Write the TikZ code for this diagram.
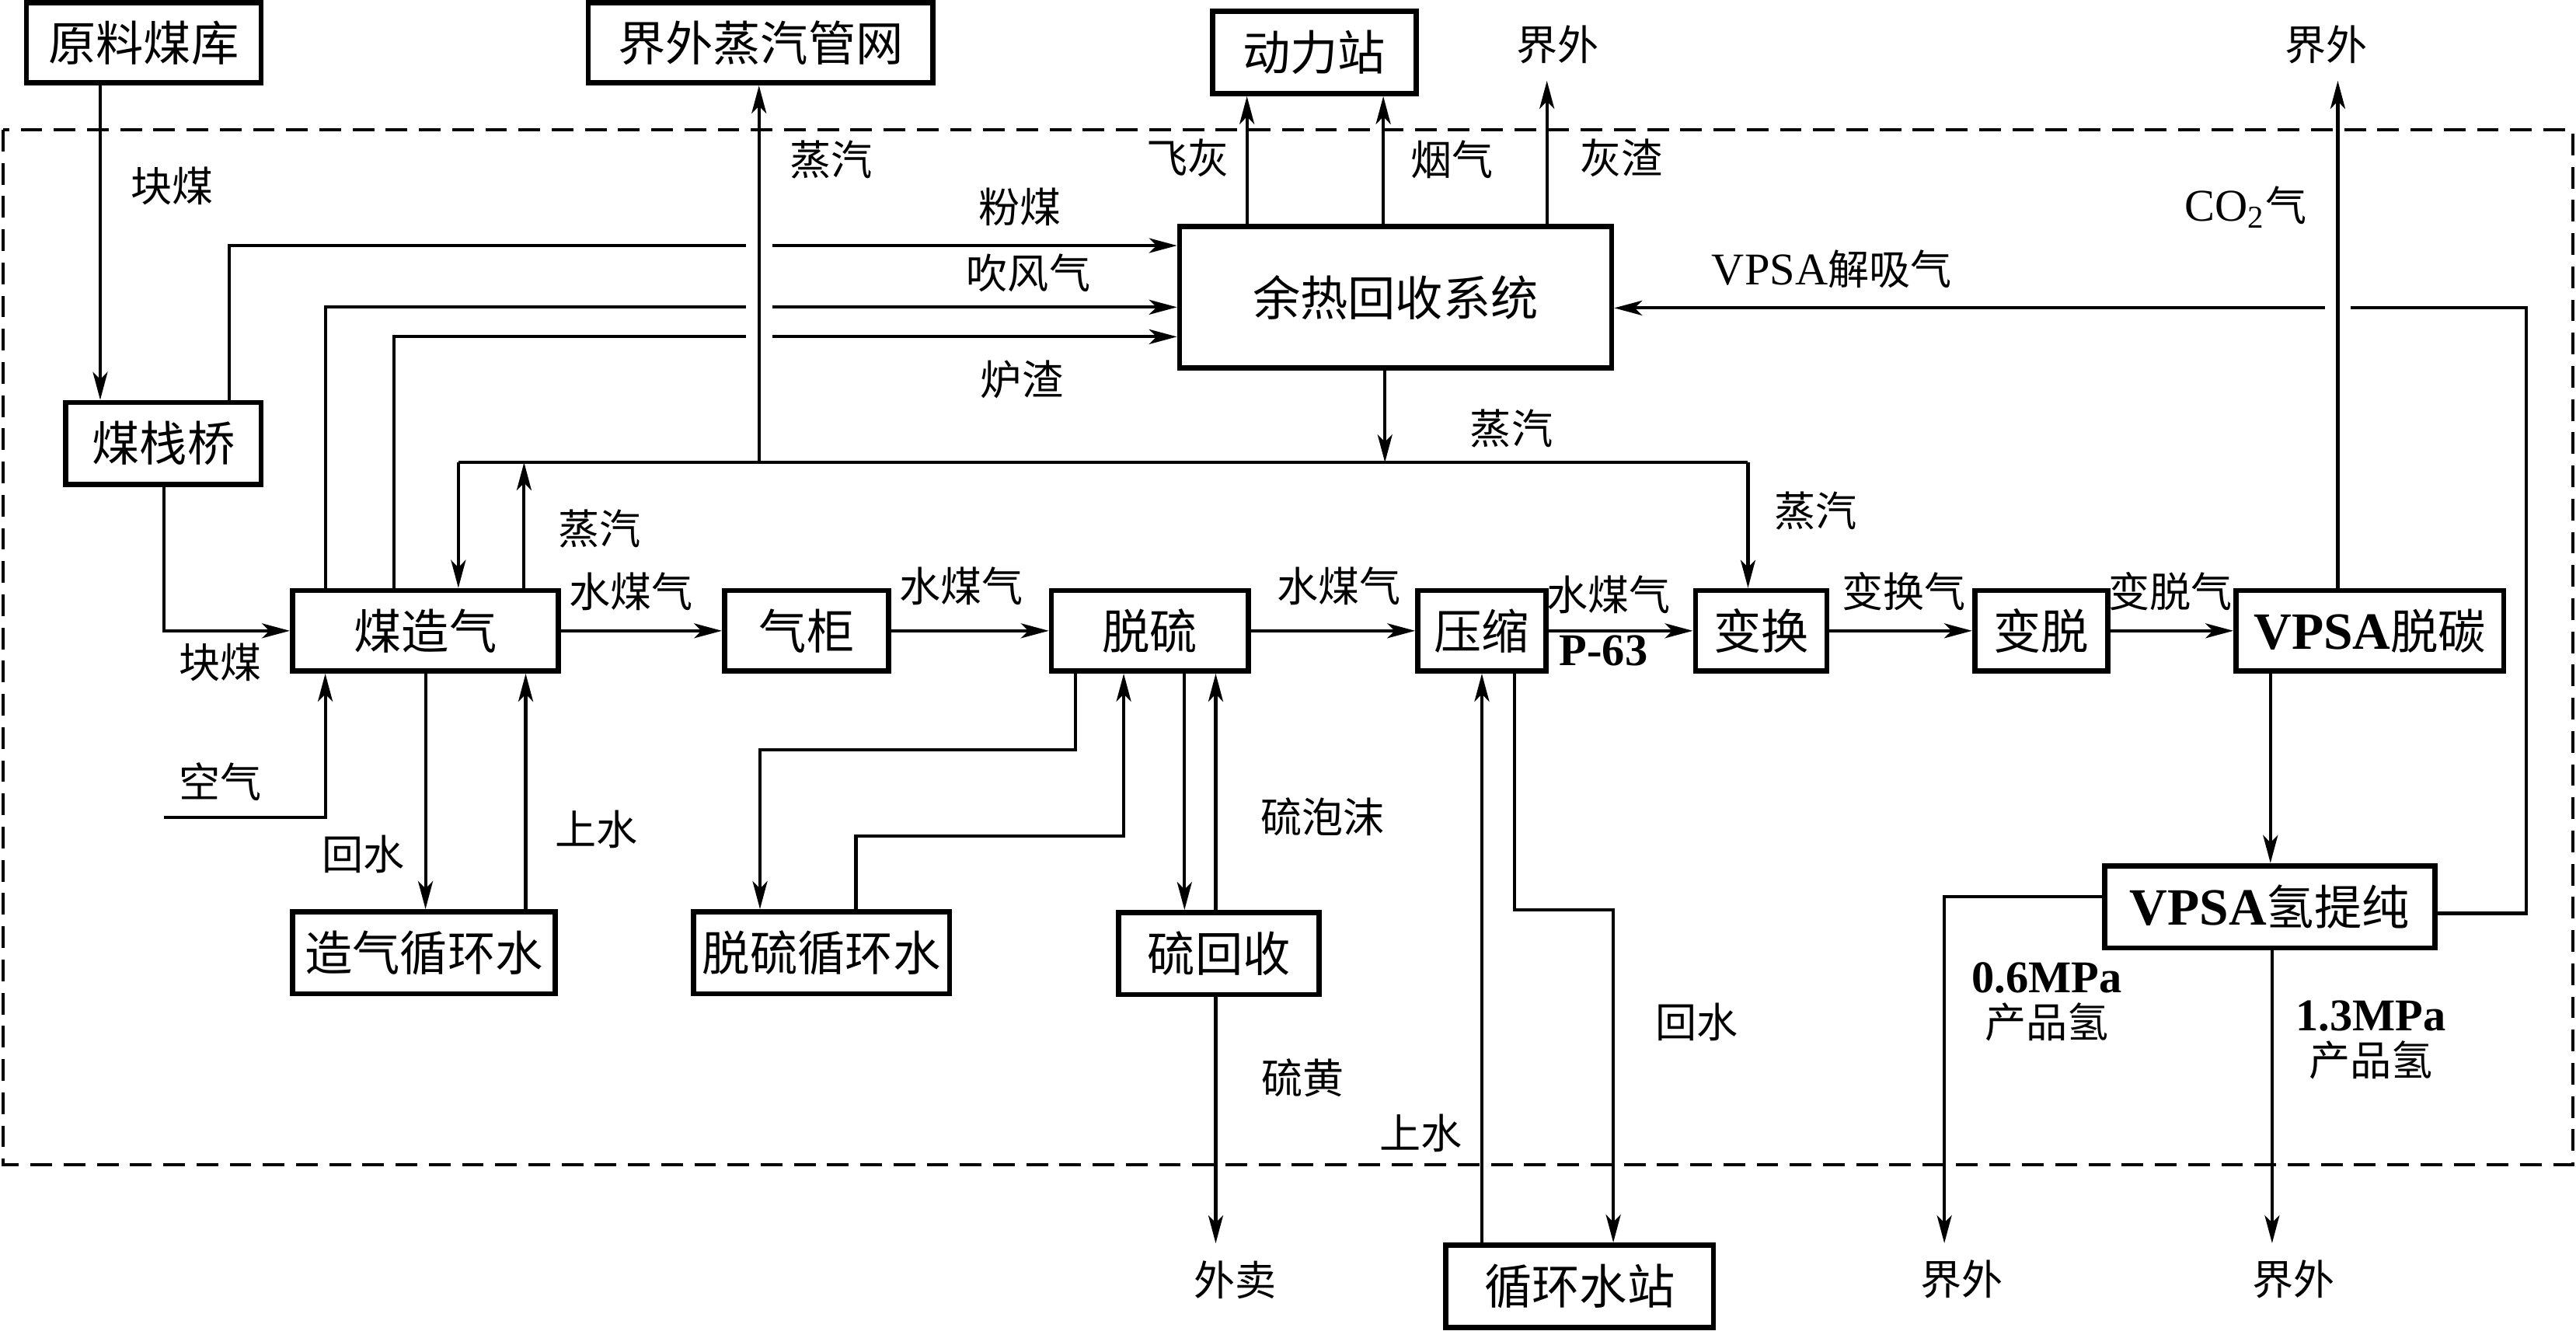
\documentclass[tikz,border=0pt]{standalone}
\usepackage{fontspec}
\setmainfont{Noto Sans CJK SC}
\newfontfamily\latfont[Scale=1.1]{Liberation Serif}
\usepackage{tikz}
\usetikzlibrary{arrows.meta}
\newcommand\boxfont{\fontsize{16.5}{18}\selectfont}
\newcommand\lblfont{\fontsize{14.3}{15.5}\selectfont}
\tikzset{
  box/.style={draw, line width=1.8pt, inner sep=0pt, minimum height=0.98cm, font=\boxfont},
  lbl/.style={inner sep=0pt, font=\lblfont, align=center},
  outside/.style={lbl, outer sep=6pt},
  pipe/.style={line width=1.1pt},
  flow/.style={pipe, -{Stealth[length=3.4mm,width=1.8mm,inset=0.9mm]}}
}

\begin{document}
\begin{tikzpicture}[x=0.02cm,y=-0.02cm]
\useasboundingbox (0,0) rectangle (1568,810);
\draw[line width=1.1pt, dash pattern=on 7.5pt off 4pt] (2,79) rectangle (1566,709);

\node[box, minimum width=2.86cm] (ylmk) at (87.5,26) {原料煤库};
\node[box, minimum width=4.2cm] (jwzq) at (463,26) {界外蒸汽管网};
\node[box, minimum width=2.48cm, minimum height=1cm] (dlz) at (800,32) {动力站};
\node[box, minimum width=5.26cm, minimum height=1.72cm] (yr) at (849.5,181) {余热回收系统};
\node[box, minimum width=2.38cm, minimum height=1cm] (zhanqiao) at (99.5,270) {煤栈桥};
\node[box, minimum width=3.24cm] (zaoqi) at (259,384) {煤造气};
\node[box, minimum width=2cm] (qigui) at (491,384) {气柜};
\node[box, minimum width=2.4cm] (tuoliu) at (700,384) {脱硫};
\node[box, minimum width=1.56cm] (yasuo) at (902,384) {压缩};
\node[box, minimum width=1.6cm] (bianhuan) at (1072,384) {变换};
\node[box, minimum width=1.62cm] (biantuo) at (1242.5,384) {变脱};
\node[box, minimum width=3.26cm] (tuotan) at (1442.5,384) {{\latfont\bfseries VPSA}脱碳};
\node[box, minimum width=3.2cm, minimum height=1cm] (zqxhs) at (258,580) {造气循环水};
\node[box, minimum width=3.12cm, minimum height=1cm] (tlxhs) at (500,580) {脱硫循环水};
\node[box, minimum width=2.44cm, minimum height=1cm] (lhs) at (742,580.5) {硫回收};
\node[box, minimum width=3.26cm, minimum height=1cm] (xhsz) at (961.5,783) {循环水站};
\node[box, minimum width=4.02cm, minimum height=1cm] (qtc) at (1381.5,552) {{\latfont\bfseries VPSA}氢提纯};

\node[outside] (jw1) at (948,27) {界外};
\node[outside] (jw2) at (1416,27) {界外};
\node[outside] (jw3) at (1194,779) {界外};
\node[outside] (jw4) at (1396,779) {界外};
\node[outside] (waimai) at (752,779) {外卖};

\node[lbl] (kuaimei1) at (105,113) {块煤};
\node[lbl] (kuaimei2) at (134,403) {块煤};
\node[lbl] (kongqi) at (134,476) {空气};
\node[lbl] (huishui1) at (221,520) {回水};
\node[lbl] (shangshui1) at (363,505) {上水};
\node[lbl] (zhengqi1) at (365,322) {蒸汽};
\node[lbl] (zhengqi2) at (506,97) {蒸汽};
\node[lbl] (zhengqi3) at (920,261) {蒸汽};
\node[lbl] (zhengqi4) at (1105,311) {蒸汽};
\node[lbl] (smq1) at (384,360) {水煤气};
\node[lbl] (smq2) at (585,357) {水煤气};
\node[lbl] (smq3) at (815,357) {水煤气};
\node[lbl] (smq4) at (979,362) {水煤气};
\node[lbl] (p63) at (976,396) {\latfont\bfseries P-63};
\node[lbl] (bhq) at (1159,360) {变换气};
\node[lbl] (btq) at (1321,360) {变脱气};
\node[lbl] (fenmei) at (621,126) {粉煤};
\node[lbl] (chuifeng) at (626,166) {吹风气};
\node[lbl] (luzha) at (622,231) {炉渣};
\node[lbl] (feihui) at (723,96) {飞灰};
\node[lbl] (yanqi) at (884,97) {烟气};
\node[lbl] (huizha) at (987,96) {灰渣};
\node[lbl] (jiexi) at (1115,164) {{\latfont VPSA}解吸气};
\node[lbl] (co2) at (1367,126) {{\latfont CO\textsubscript{2}}气};
\node[lbl] (lpm) at (805,497) {硫泡沫};
\node[lbl] (lhuang) at (793,656) {硫黄};
\node[lbl] (shangshui2) at (865,690) {上水};
\node[lbl] (huishui2) at (1033,622) {回水};
\node[lbl] (cpq1) at (1246,610) {{\latfont\bfseries 0.6MPa}\\产品氢};
\node[lbl] (cpq2) at (1443,633) {{\latfont\bfseries 1.3MPa}\\产品氢};

\coordinate (hl) at (279,281.5);
\coordinate (hr) at (1064,281.5);
\coordinate (air) at (100,497.5);

\draw[flow] (61,0 |- ylmk.south) -- (61,0 |- zhanqiao.north);
\draw[flow] (100,0 |- zhanqiao.south) |- (zaoqi.west);
\draw[flow] (139.5,0 |- zhanqiao.north) |- (454,149.5) (470,149.5) -- (yr.west |- 0,149.5);
\draw[flow] (198,0 |- zaoqi.north) |- (454,187) (470,187) -- (yr.west |- 0,187);
\draw[flow] (240,0 |- zaoqi.north) |- (454,205) (470,205) -- (yr.west |- 0,205);
\draw[pipe] (hl) -- (hr);
\draw[flow] (hl) -- (hl |- zaoqi.north);
\draw[flow] (hr) -- (hr |- bianhuan.north);
\draw[flow] (843,0 |- yr.south) -- (843,0 |- hl);
\draw[flow] (462,0 |- hl) -- (462,0 |- jwzq.south);
\draw[flow] (319,0 |- zaoqi.north) -- (319,0 |- hl);
\draw[flow] (zaoqi) -- (qigui);
\draw[flow] (qigui) -- (tuoliu);
\draw[flow] (tuoliu) -- (yasuo);
\draw[flow] (yasuo) -- (bianhuan);
\draw[flow] (bianhuan) -- (biantuo);
\draw[flow] (biantuo) -- (tuotan);
\draw[flow] (259,0 |- zaoqi.south) -- (259,0 |- zqxhs.north);
\draw[flow] (320,0 |- zqxhs.north) -- (320,0 |- zaoqi.south);
\draw[flow] (air) -| (198,0 |- zaoqi.south);
\draw[flow] (654.6,0 |- tuoliu.south) |- (462.6,456.5) -- (462.6,0 |- tlxhs.north);
\draw[flow] (521,0 |- tlxhs.north) |- (684,509) -- (684,0 |- tuoliu.south);
\draw[flow] (721,0 |- tuoliu.south) -- (721,0 |- lhs.north);
\draw[flow] (740,0 |- lhs.north) -- (740,0 |- tuoliu.south);
\draw[flow] (740,0 |- lhs.south) -- (740,0 |- waimai.north);
\draw[flow] (902,0 |- xhsz.north) -- (902,0 |- yasuo.south);
\draw[flow] (922,0 |- yasuo.south) |- (982,554) -- (982,0 |- xhsz.north);
\draw[flow] (759,0 |- yr.north) -- (759,0 |- dlz.south);
\draw[flow] (842,0 |- yr.north) -- (842,0 |- dlz.south);
\draw[flow] (941.6,0 |- yr.north) -- (941.6,0 |- jw1.south);
\draw[flow] (1382,0 |- tuotan.south) -- (1382,0 |- qtc.north);
\draw[flow] (1423,0 |- tuotan.north) -- (1423,0 |- jw2.south);
\draw[flow] (qtc.east |- 0,556) -| (1537.5,187.5) -- (1431,187.5) (1415,187.5) -- (yr.east |- 0,187.5);
\draw[flow] (qtc.west |- 0,546) -| (1183.5,0 |- jw3.north);
\draw[flow] (1383,0 |- qtc.south) -- (1383,0 |- jw4.north);
\end{tikzpicture}
\end{document}
